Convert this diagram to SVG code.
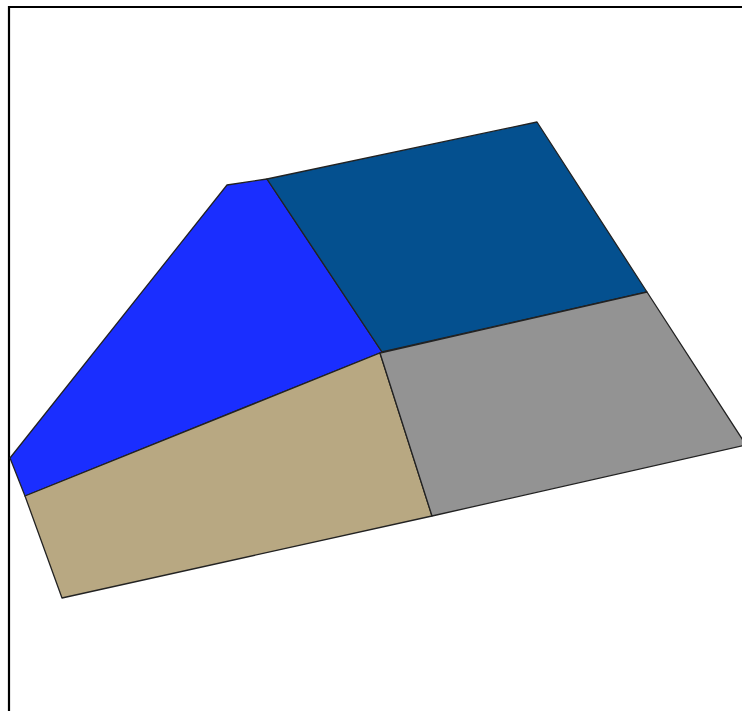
<svg xmlns="http://www.w3.org/2000/svg" width="742" height="711" viewBox="0 0 742 711">
<style>
.f{stroke:#222;stroke-width:1.3;stroke-linejoin:round}
</style>
<rect width="742" height="711" fill="#fff"/>
<path d="M9,711 V7 H742" fill="none" stroke="#000" stroke-width="2.2"/>
<g id="roof-left"><polygon class="f" fill="#1a2eff" points="227,185 267,179 382,352 25,496 10,458"/></g>
<g id="roof-right"><polygon class="f" fill="#04508f" points="267,179 537,122 647,292 382,352"/></g>
<g id="floor-left"><polygon class="f" fill="#b8a882" points="25,496 380,353 432,516 62,598"/></g>
<g id="floor-right"><polygon class="f" fill="#939393" points="380,353 647,292 746,445 432,516"/></g>
</svg>
